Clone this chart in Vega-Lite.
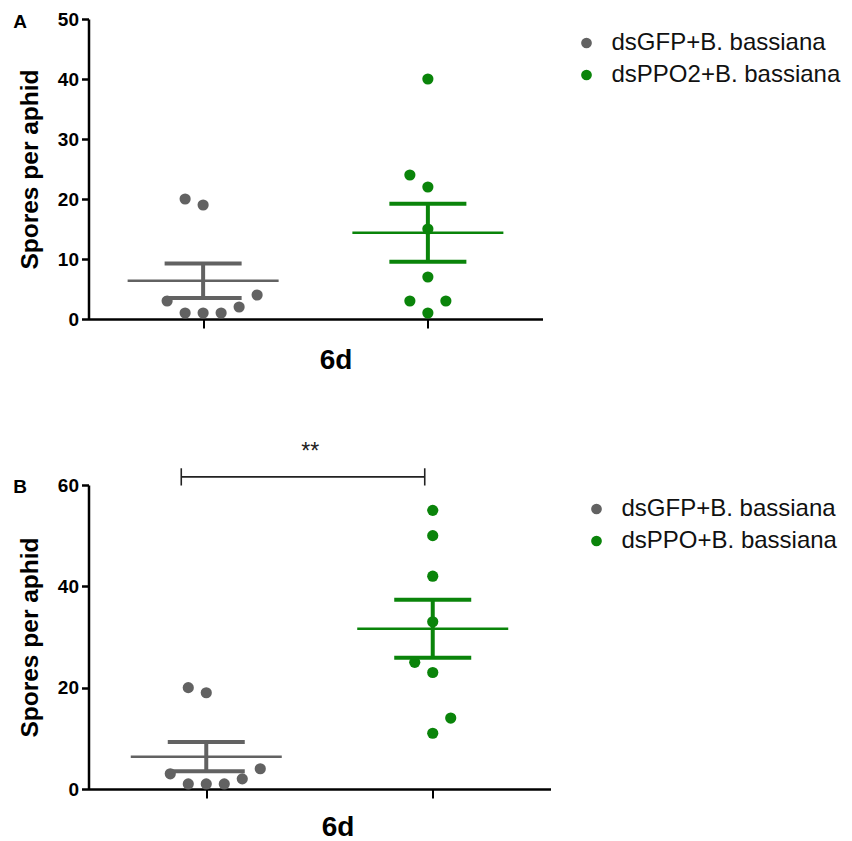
{
  "$schema": "https://vega.github.io/schema/vega-lite/v6.json",
  "background": "white",
  "padding": {"left": 12.5, "top": 10, "right": 5, "bottom": 0},
  "config": {
    "font": "Liberation Sans",
    "view": {"stroke": null},
    "axis": {
      "grid": false,
      "domainColor": "black",
      "domainWidth": 2.5,
      "tickColor": "black",
      "tickWidth": 2.5,
      "labelColor": "black",
      "titleColor": "black",
      "labelFont": "Liberation Sans",
      "titleFont": "Liberation Sans"
    },
    "legend": {"labelFont": "Liberation Sans"},
    "title": {"font": "Liberation Sans", "color": "black"}
  },
  "spacing": 66,
  "resolve": {
    "scale": {"color": "independent", "x": "independent", "y": "independent"},
    "legend": {"color": "independent"}
  },
  "vconcat": [
    {
      "width": 454,
      "height": 300,
      "title": {"text": "A", "anchor": "start", "frame": "bounds", "fontSize": 19, "fontWeight": "bold", "offset": 0, "baseline": "alphabetic", "dy": 37, "dx": -4},
      "data": {"values": [
        {"group": "dsGFP+B. bassiana", "spores": 20, "slot": -1},
        {"group": "dsGFP+B. bassiana", "spores": 19, "slot": 0},
        {"group": "dsGFP+B. bassiana", "spores": 3, "slot": -2},
        {"group": "dsGFP+B. bassiana", "spores": 1, "slot": -1},
        {"group": "dsGFP+B. bassiana", "spores": 1, "slot": 0},
        {"group": "dsGFP+B. bassiana", "spores": 1, "slot": 1},
        {"group": "dsGFP+B. bassiana", "spores": 2, "slot": 2},
        {"group": "dsGFP+B. bassiana", "spores": 4, "slot": 3},
        {"group": "dsPPO2+B. bassiana", "spores": 40, "slot": 0},
        {"group": "dsPPO2+B. bassiana", "spores": 24, "slot": -1},
        {"group": "dsPPO2+B. bassiana", "spores": 22, "slot": 0},
        {"group": "dsPPO2+B. bassiana", "spores": 15, "slot": 0},
        {"group": "dsPPO2+B. bassiana", "spores": 7, "slot": 0},
        {"group": "dsPPO2+B. bassiana", "spores": 3, "slot": -1},
        {"group": "dsPPO2+B. bassiana", "spores": 3, "slot": 1},
        {"group": "dsPPO2+B. bassiana", "spores": 1, "slot": 0}
      ]},
      "encoding": {
        "x": {
          "field": "group", "type": "nominal",
          "scale": {"type": "point", "padding": 0.51, "domain": ["dsGFP+B. bassiana", "dsPPO2+B. bassiana"]},
          "axis": {"labels": false, "title": "6d", "tickSize": 9, "tickWidth": 2, "titleFontSize": 28, "titleFontWeight": "bold", "titleX": 247, "titleY": 49, "titleBaseline": "alphabetic"}
        },
        "color": {
          "field": "group", "type": "nominal",
          "scale": {"domain": ["dsGFP+B. bassiana", "dsPPO2+B. bassiana"], "range": ["#626262", "#0a840a"]},
          "legend": {"title": null, "orient": "none", "legendX": 486, "legendY": 12, "symbolType": "circle", "symbolSize": 85, "labelFontSize": 24, "labelColor": "#111111", "rowPadding": 8, "labelOffset": 13, "labelLimit": 400}
        }
      },
      "layer": [
        {
          "mark": {"type": "circle", "size": 125, "opacity": 1},
          "encoding": {
            "y": {"field": "spores", "type": "quantitative", "title": "Spores per aphid",
              "scale": {"domain": [0, 50], "nice": false},
              "axis": {"values": [0, 10, 20, 30, 40, 50], "tickSize": 7, "labelFontSize": 19, "labelFontWeight": "bold", "labelPadding": 3, "titleFontSize": 24.5, "titleFontWeight": "bold", "titlePadding": 15}},
            "xOffset": {"field": "slot", "type": "quantitative", "scale": {"domain": [0, 1], "range": [0, 18]}}
          }
        },
        {
          "mark": {"type": "errorbar", "extent": "stderr", "thickness": 4, "ticks": {"size": 77, "thickness": 4, "opacity": 1}, "rule": {"opacity": 1}},
          "encoding": {"y": {"field": "spores", "type": "quantitative", "title": "Spores per aphid"}}
        },
        {
          "mark": {"type": "tick", "size": 151, "thickness": 2.5, "opacity": 1},
          "encoding": {"y": {"field": "spores", "aggregate": "mean", "type": "quantitative", "title": "Spores per aphid"}}
        }
      ]
    },
    {
      "width": 462,
      "height": 304,
      "title": {"text": "B", "anchor": "start", "frame": "bounds", "fontSize": 19, "fontWeight": "bold", "offset": 0, "baseline": "alphabetic", "dy": 71, "dx": -4},
      "layer": [
        {
          "data": {"values": [
            {"group": "dsGFP+B. bassiana", "spores": 20, "slot": -1},
            {"group": "dsGFP+B. bassiana", "spores": 19, "slot": 0},
            {"group": "dsGFP+B. bassiana", "spores": 3, "slot": -2},
            {"group": "dsGFP+B. bassiana", "spores": 1, "slot": -1},
            {"group": "dsGFP+B. bassiana", "spores": 1, "slot": 0},
            {"group": "dsGFP+B. bassiana", "spores": 1, "slot": 1},
            {"group": "dsGFP+B. bassiana", "spores": 2, "slot": 2},
            {"group": "dsGFP+B. bassiana", "spores": 4, "slot": 3},
            {"group": "dsPPO+B. bassiana", "spores": 55, "slot": 0},
            {"group": "dsPPO+B. bassiana", "spores": 50, "slot": 0},
            {"group": "dsPPO+B. bassiana", "spores": 42, "slot": 0},
            {"group": "dsPPO+B. bassiana", "spores": 33, "slot": 0},
            {"group": "dsPPO+B. bassiana", "spores": 25, "slot": -1},
            {"group": "dsPPO+B. bassiana", "spores": 23, "slot": 0},
            {"group": "dsPPO+B. bassiana", "spores": 14, "slot": 1},
            {"group": "dsPPO+B. bassiana", "spores": 11, "slot": 0}
          ]},
          "encoding": {
            "x": {
              "field": "group", "type": "nominal",
              "scale": {"type": "point", "padding": 0.52, "domain": ["dsGFP+B. bassiana", "dsPPO+B. bassiana"]},
              "axis": {"labels": false, "title": "6d", "tickSize": 9, "tickWidth": 2, "titleFontSize": 28, "titleFontWeight": "bold", "titleX": 249, "titleY": 46, "titleBaseline": "alphabetic"}
            },
            "color": {
              "field": "group", "type": "nominal",
              "scale": {"domain": ["dsGFP+B. bassiana", "dsPPO+B. bassiana"], "range": ["#626262", "#0a840a"]},
              "legend": {"title": null, "orient": "none", "legendX": 496, "legendY": 12, "symbolType": "circle", "symbolSize": 85, "labelFontSize": 24, "labelColor": "#111111", "rowPadding": 8, "labelOffset": 13, "labelLimit": 400}
            }
          },
          "layer": [
            {
              "mark": {"type": "circle", "size": 125, "opacity": 1},
              "encoding": {
                "y": {"field": "spores", "type": "quantitative", "title": "Spores per aphid",
                  "scale": {"domain": [0, 60], "nice": false},
                  "axis": {"values": [0, 20, 40, 60], "tickSize": 7, "labelFontSize": 19, "labelFontWeight": "bold", "labelPadding": 3, "titleFontSize": 24.5, "titleFontWeight": "bold", "titlePadding": 15}},
                "xOffset": {"field": "slot", "type": "quantitative", "scale": {"domain": [0, 1], "range": [0, 18]}}
              }
            },
            {
              "mark": {"type": "errorbar", "extent": "stderr", "thickness": 4, "ticks": {"size": 77, "thickness": 4, "opacity": 1}, "rule": {"opacity": 1}},
              "encoding": {"y": {"field": "spores", "type": "quantitative", "title": "Spores per aphid"}}
            },
            {
              "mark": {"type": "tick", "size": 151, "thickness": 2.5, "opacity": 1},
              "encoding": {"y": {"field": "spores", "aggregate": "mean", "type": "quantitative", "title": "Spores per aphid"}}
            }
          ]
        },
        {
          "data": {"values": [
            {"from": "dsGFP+B. bassiana", "to": "dsPPO+B. bassiana", "y": 61.6, "lo": 59.9, "hi": 63.3, "label": "**", "labelY": 65.2}
          ]},
          "layer": [
            {
              "mark": {"type": "rule", "color": "#222222", "strokeWidth": 1.6, "xOffset": -25, "x2Offset": -8, "clip": false},
              "encoding": {"x": {"field": "from", "type": "nominal"}, "x2": {"field": "to"}, "y": {"field": "y", "type": "quantitative"}}
            },
            {
              "mark": {"type": "rule", "color": "#222222", "strokeWidth": 1.6, "xOffset": -25, "clip": false},
              "encoding": {"x": {"field": "from", "type": "nominal"}, "y": {"field": "lo", "type": "quantitative"}, "y2": {"field": "hi"}}
            },
            {
              "mark": {"type": "rule", "color": "#222222", "strokeWidth": 1.6, "xOffset": -8, "clip": false},
              "encoding": {"x": {"field": "to", "type": "nominal"}, "y": {"field": "lo", "type": "quantitative"}, "y2": {"field": "hi"}}
            },
            {
              "mark": {"type": "text", "fontSize": 23, "color": "#222222", "dx": 104, "baseline": "alphabetic", "clip": false},
              "encoding": {"x": {"field": "from", "type": "nominal"}, "y": {"field": "labelY", "type": "quantitative"}, "text": {"field": "label"}}
            }
          ]
        }
      ]
    }
  ]
}
